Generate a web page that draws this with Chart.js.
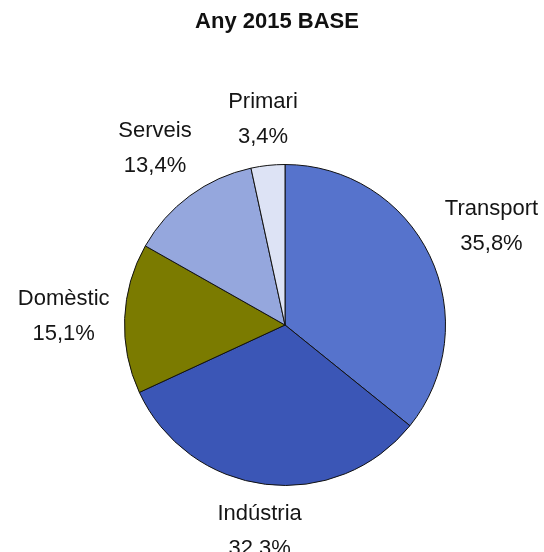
<!DOCTYPE html>
<html>
<head>
<meta charset="utf-8">
<script src="https://cdn.jsdelivr.net/npm/chart.js@4"></script>
<style>
  html, body { margin: 0; padding: 0; background: #fff; }
  #wrap { width: 544px; height: 552px; position: relative; }
</style>
</head>
<body>
<div id="wrap"><canvas id="chart"></canvas></div>
<script>
// ---- data ----
const title      = 'Any 2015 BASE';
const categories = ['Transport', 'Indústria', 'Domèstic', 'Serveis', 'Primari'];
const shares     = [35.8, 32.3, 15.1, 13.4, 3.4];
const colors     = ['#5673cc', '#3b56b6', '#7b7b00', '#95a7dd', '#dde3f5'];

const fmtPct = v => v.toFixed(1).replace('.', ',') + '%';

// title drawn by hand so layout padding doesn't push it around
const titlePlugin = {
  id: 'manualTitle',
  afterDraw(chart) {
    const ctx = chart.ctx;
    ctx.save();
    ctx.font = 'bold 22px "Liberation Sans", Arial, sans-serif';
    ctx.fillStyle = '#111';
    ctx.textAlign = 'center';
    ctx.textBaseline = 'middle';
    ctx.fillText(title, 277, 22);
    ctx.restore();
  }
};

// outside labels: name + percentage, box pushed out along the slice's mid angle
const outsideLabels = {
  id: 'outsideLabels',
  afterDraw(chart) {
    const ctx  = chart.ctx;
    const meta = chart.getDatasetMeta(0);
    const gap  = 14;
    const lineH = 35;
    ctx.save();
    ctx.font = '22px "Liberation Sans", Arial, sans-serif';
    ctx.fillStyle = '#151515';
    ctx.textAlign = 'center';
    ctx.textBaseline = 'middle';
    meta.data.forEach((arc, i) => {
      const { x, y, startAngle, endAngle, outerRadius } = arc.getProps(['x', 'y', 'startAngle', 'endAngle', 'outerRadius'], true);
      const mid = (startAngle + endAngle) / 2;
      const dx = Math.cos(mid), dy = Math.sin(mid);
      const name = categories[i];
      const pct  = fmtPct(shares[i]);
      const w = Math.max(ctx.measureText(name).width, ctx.measureText(pct).width);
      const h = lineH + 22;
      const push = outerRadius + gap + Math.abs(dx) * w / 2 + Math.abs(dy) * h / 2;
      const cx = x + dx * push;
      const cy = y + dy * push;
      ctx.fillText(name, cx, cy - lineH / 2);
      ctx.fillText(pct,  cx, cy + lineH / 2);
    });
    ctx.restore();
  }
};

new Chart(document.getElementById('chart').getContext('2d'), {
  type: 'pie',
  data: {
    labels: categories,
    datasets: [{
      data: shares,
      backgroundColor: colors,
      borderColor: '#111',
      borderWidth: 1,
      hoverOffset: 0
    }]
  },
  options: {
    responsive: true,
    maintainAspectRatio: false,
    animation: false,
    layout: { padding: { left: 124, right: 98, top: 164, bottom: 66 } },
    plugins: {
      legend: { display: false },
      tooltip: { enabled: false },
      title: { display: false }
    }
  },
  plugins: [titlePlugin, outsideLabels]
});
</script>
</body>
</html>
